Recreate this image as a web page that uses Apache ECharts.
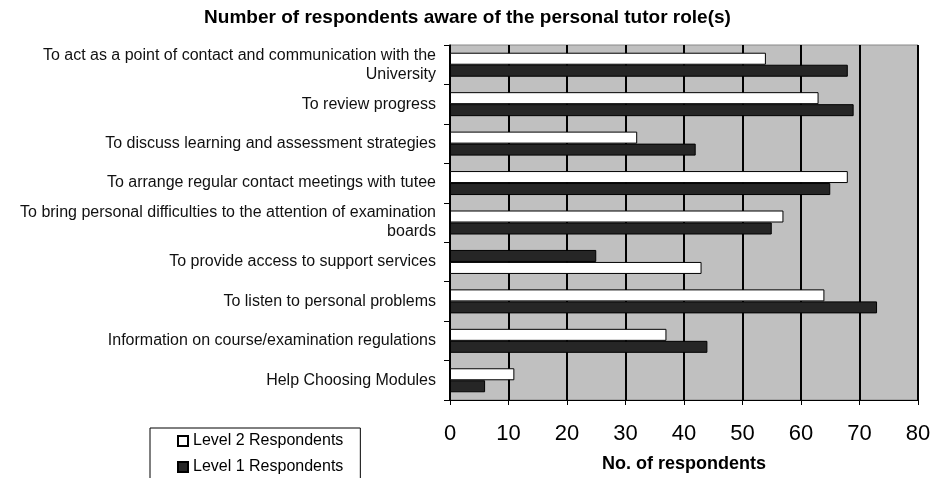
<!DOCTYPE html>
<html>
<head>
<meta charset="utf-8">
<script src="https://cdn.jsdelivr.net/npm/echarts@6/dist/echarts.min.js"></script>
<style>html,body{margin:0;padding:0;background:#fff}#c{width:935px;height:478px}</style>
</head>
<body>
<div id="c"></div>
<script>
const categories = [
  "To act as a point of contact and communication with the\nUniversity",
  "To review progress",
  "To discuss learning and assessment strategies",
  "To arrange regular contact meetings with tutee",
  "To bring personal difficulties to the attention of examination\nboards",
  "To provide access to support services",
  "To listen to personal problems",
  "Information on course/examination regulations",
  "Help Choosing Modules"
];
const level2 = [54, 63, 32, 68, 57, 43, 64, 37, 11];
const level1 = [68, 69, 42, 65, 55, 25, 73, 44, 6];
// categories in which the original chart drew Level 1 above Level 2
const swappedOrder = [5];
const xTicks = [0, 10, 20, 30, 40, 50, 60, 70, 80];

const WHITE = '#ffffff', DARK = '#262626';
const topSlot = categories.map((c, i) => swappedOrder.includes(i)
  ? { value: level1[i], itemStyle: { color: DARK } }
  : { value: level2[i] });
const bottomSlot = categories.map((c, i) => swappedOrder.includes(i)
  ? { value: level2[i], itemStyle: { color: WHITE } }
  : { value: level1[i] });

const chart = echarts.init(document.getElementById('c'));
const font = 'Liberation Sans, Arial, sans-serif';
chart.setOption({
  animation: false,
  textStyle: { fontFamily: font },
  title: {
    text: 'Number of respondents aware of the personal tutor role(s)',
    left: 'center', top: 3,
    textStyle: { fontSize: 19, fontWeight: 'bold', color: '#000', fontFamily: font }
  },
  legend: {
    orient: 'vertical', left: 150, top: 428, height: 80, width: 210,
    padding: [5, 17, 20, 27],
    itemGap: 10, itemWidth: 10, itemHeight: 10, icon: 'rect',
    borderColor: '#000', borderWidth: 1,
    textStyle: { fontSize: 16, color: '#000' },
    data: ['Level 2 Respondents', 'Level 1 Respondents']
  },
  grid: {
    left: 450, right: 17, top: 45, bottom: 77,
    show: true, backgroundColor: '#c0c0c0', borderColor: '#888', borderWidth: 1
  },
  xAxis: {
    type: 'value', min: xTicks[0], max: xTicks[xTicks.length - 1], interval: 10,
    axisLine: { show: true, lineStyle: { color: '#000', width: 1 } },
    axisTick: { show: true, length: 5, lineStyle: { color: '#000' } },
    axisLabel: { fontSize: 22, color: '#000', margin: 23 },
    splitLine: { show: true, lineStyle: { color: '#000', width: 2 } },
    name: 'No. of respondents', nameLocation: 'middle', nameGap: 55,
    nameTextStyle: { fontSize: 18, fontWeight: 'bold', color: '#000' }
  },
  yAxis: {
    type: 'category', inverse: true, data: categories,
    axisLine: { show: true, lineStyle: { color: '#000', width: 1.5 } },
    axisTick: { show: true, length: 6, lineStyle: { color: '#000' } },
    axisLabel: { fontSize: 16, color: '#111', margin: 14, align: 'right', lineHeight: 19 },
    splitLine: { show: false }
  },
  series: [
    {
      name: 'Level 2 Respondents', type: 'bar', data: topSlot,
      barWidth: 12, barGap: '0%',
      itemStyle: { color: WHITE, borderColor: '#000', borderWidth: 1 }
    },
    {
      name: 'Level 1 Respondents', type: 'bar', data: bottomSlot,
      barWidth: 12, barGap: '0%',
      itemStyle: { color: DARK, borderColor: '#000', borderWidth: 1 }
    }
  ]
});
</script>
</body>
</html>
